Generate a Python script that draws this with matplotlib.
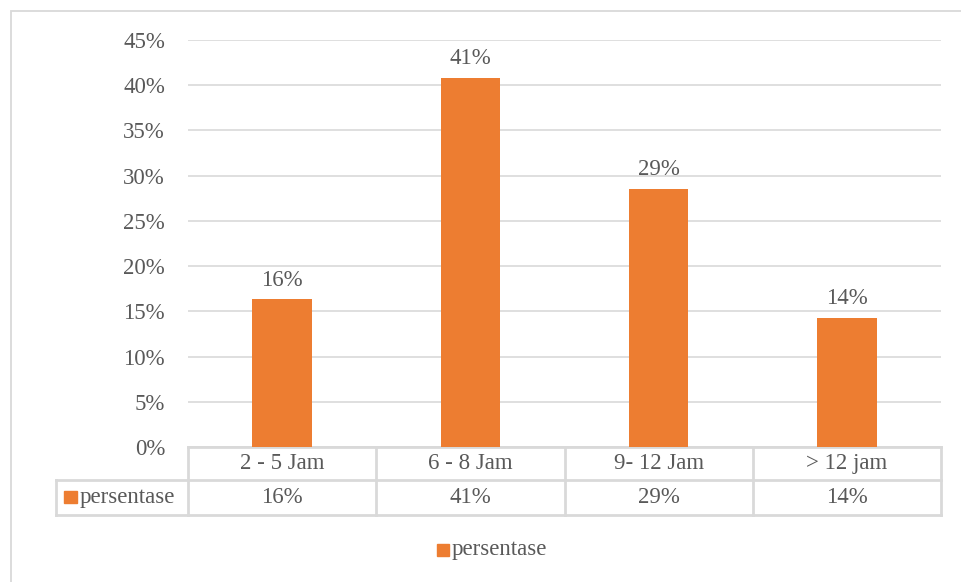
import matplotlib.pyplot as plt
from matplotlib.patches import Rectangle
from matplotlib.lines import Line2D

categories = ['2 - 5 Jam', '6 - 8 Jam', '9- 12 Jam', '> 12 jam']
values = [0.1633, 0.4082, 0.2857, 0.1429]
series_name = 'persentase'
y_ticks = [0, 0.05, 0.10, 0.15, 0.20, 0.25, 0.30, 0.35, 0.40, 0.45]

ORANGE = '#ED7D31'
TEXT = '#595959'
GRID = '#D9D9D9'
FS = 16.5

plt.rcParams['font.family'] = ['Liberation Serif', 'DejaVu Serif']

W, H = 961, 582
fig = plt.figure(figsize=(W / 100, H / 100), dpi=100)


def fx(px):
    return px / W


def fy(py):
    return 1 - py / H


# outer chart border
fig.patches.append(Rectangle((fx(10.5), fy(600)), fx(1000), fy(11.5) - fy(600),
                             transform=fig.transFigure, fill=False,
                             edgecolor=GRID, linewidth=1.3))

left, right, top, bottom = 188, 941, 40, 447
ax = fig.add_axes([fx(left), fy(bottom), fx(right - left), fy(top) - fy(bottom)])

x = list(range(len(categories)))
ax.bar(x, values, width=0.315, color=ORANGE, zorder=3)
ax.set_xlim(-0.5, len(categories) - 0.5)
ax.set_ylim(0, 0.45)
ax.set_yticks(y_ticks)
ax.set_yticklabels([f'{int(round(t * 100))}%' for t in y_ticks])
ax.tick_params(axis='y', length=0, pad=16.5, labelsize=FS, labelcolor=TEXT)
ax.set_xticks([])
ax.grid(axis='y', color=GRID, linewidth=1.2, zorder=0)
for s in ax.spines.values():
    s.set_visible(False)

for xi, v in zip(x, values):
    ax.annotate(f'{v * 100:.0f}%', (xi, v), xytext=(0, 6), textcoords='offset points',
                ha='center', va='bottom', fontsize=FS, color=TEXT)

# data table below the axis
span = bottom - top
r1 = -(480 - bottom) / span
r2 = -(515 - bottom) / span
lab_left = (56 - left) / (right - left)
lkw = dict(color=GRID, linewidth=2, transform=ax.transAxes, clip_on=False)
ax.add_line(Line2D([0, 1], [0, 0], **lkw))
ax.add_line(Line2D([lab_left, 1], [r1, r1], **lkw))
ax.add_line(Line2D([lab_left, 1], [r2, r2], **lkw))
ax.add_line(Line2D([lab_left, lab_left], [r1, r2], **lkw))
for i in range(len(categories) + 1):
    xa = i / len(categories)
    ax.add_line(Line2D([xa, xa], [0, r2], **lkw))

for i, (c, v) in enumerate(zip(categories, values)):
    xc = (i + 0.5) / len(categories)
    ax.text(xc, r1 / 2, c, transform=ax.transAxes, ha='center', va='center',
            fontsize=FS, color=TEXT)
    ax.text(xc, (r1 + r2) / 2, f'{v * 100:.0f}%', transform=ax.transAxes,
            ha='center', va='center', fontsize=FS, color=TEXT)

# series key in the table
fig.patches.append(Rectangle((fx(64), fy(503)), fx(13), fy(491) - fy(503),
                             transform=fig.transFigure, color=ORANGE))
fig.text(fx(80), fy(497.5), series_name, ha='left', va='center',
         fontsize=FS, color=TEXT)

# legend at the bottom
fig.patches.append(Rectangle((fx(437), fy(556)), fx(12), fy(544) - fy(556),
                             transform=fig.transFigure, color=ORANGE))
fig.text(fx(452), fy(550), series_name, ha='left', va='center',
         fontsize=FS, color=TEXT)

fig.savefig('out.png', dpi=100)
